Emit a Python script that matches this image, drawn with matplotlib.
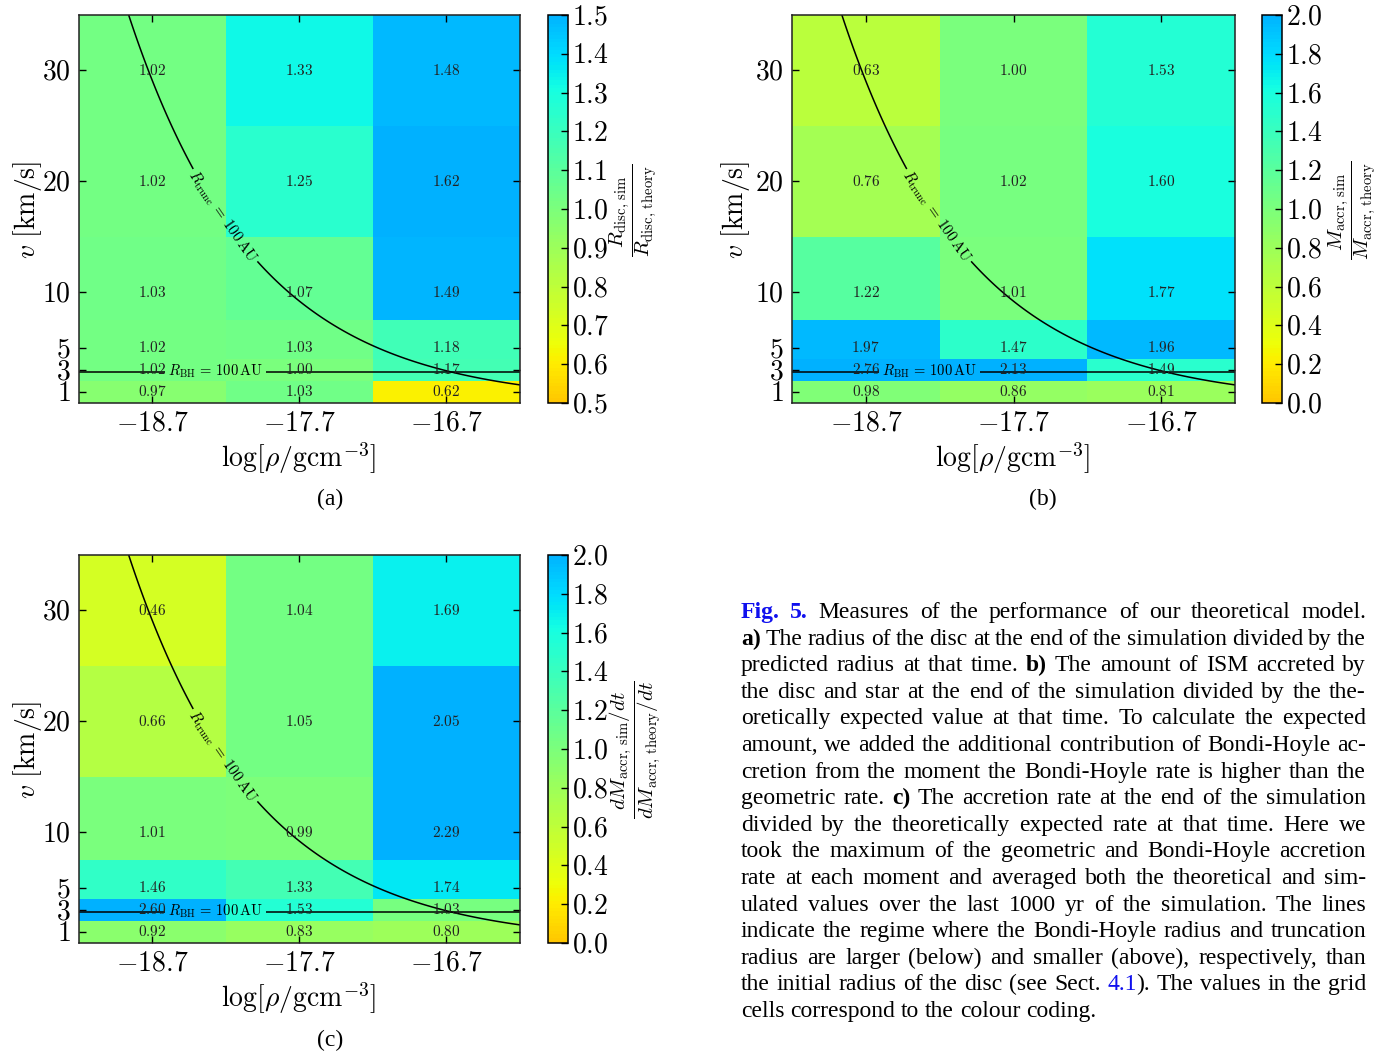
import numpy as np
import matplotlib
matplotlib.use('Agg')
import matplotlib.pyplot as plt
from matplotlib.colors import ListedColormap, Normalize

plt.rcParams['mathtext.fontset'] = 'cm'
plt.rcParams['font.family'] = ['Liberation Serif', 'DejaVu Serif']

# ---------------- data ----------------
log_rho = [-18.7, -17.7, -16.7]
velocities = [30, 20, 10, 5, 3, 1]          # rows, top to bottom

ratio_rdisc = [[1.02, 1.33, 1.48],
               [1.02, 1.25, 1.62],
               [1.03, 1.07, 1.49],
               [1.02, 1.03, 1.18],
               [1.02, 1.00, 1.17],
               [0.97, 1.03, 0.62]]

ratio_macc = [[0.63, 1.00, 1.53],
              [0.76, 1.02, 1.60],
              [1.22, 1.01, 1.77],
              [1.97, 1.47, 1.96],
              [2.76, 2.13, 1.49],
              [0.98, 0.86, 0.81]]

ratio_mdot = [[0.46, 1.04, 1.69],
              [0.66, 1.05, 2.05],
              [1.01, 0.99, 2.29],
              [1.46, 1.33, 1.74],
              [2.60, 1.53, 1.03],
              [0.92, 0.83, 0.80]]

x_ticklabels = [r'$-18.7$', r'$-17.7$', r'$-16.7$']
y_ticks = [1, 3, 5, 10, 20, 30]
cbar_ticks_a = [0.5, 0.6, 0.7, 0.8, 0.9, 1.0, 1.1, 1.2, 1.3, 1.4, 1.5]
cbar_ticks_bc = [0.0, 0.2, 0.4, 0.6, 0.8, 1.0, 1.2, 1.4, 1.6, 1.8, 2.0]

# regime lines: R_trunc = 100 AU  <->  log10(rho v^2) = const ; R_BH = 100 AU <-> v = const
log_ram_pressure_trunc = -15.774
v_bondi_hoyle = 2.84

caption_lines = [
    "^BFig. ^B5. Measures of the performance of our theoretical model.",
    "^ba) The radius of the disc at the end of the simulation divided by the",
    "predicted radius at that time. ^bb) The amount of ISM accreted by",
    "the disc and star at the end of the simulation divided by the the-",
    "oretically expected value at that time. To calculate the expected",
    "amount, we added the additional contribution of Bondi-Hoyle ac-",
    "cretion from the moment the Bondi-Hoyle rate is higher than the",
    "geometric rate. ^bc) The accretion rate at the end of the simulation",
    "divided by the theoretically expected rate at that time. Here we",
    "took the maximum of the geometric and Bondi-Hoyle accretion",
    "rate at each moment and averaged both the theoretical and sim-",
    "ulated values over the last 1000 yr of the simulation. The lines",
    "indicate the regime where the Bondi-Hoyle radius and truncation",
    "radius are larger (below) and smaller (above), respectively, than",
    "the initial radius of the disc (see Sect. ^L4.1|). The values in the grid",
    "cells correspond to the colour coding.",
]

# ---------------- figure ----------------
W, H = 1395, 1056
fig = plt.figure(figsize=(W / 100, H / 100), dpi=100)

def px_axes(l, t, r, b):
    return fig.add_axes([l / W, 1 - b / H, (r - l) / W, (b - t) / H])

cmap = ListedColormap(plt.get_cmap('jet')(np.linspace(0.7, 0.3, 256)))

xc = np.array(log_rho)
x_edges = np.concatenate([[xc[0] - 0.5], (xc[:-1] + xc[1:]) / 2, [xc[-1] + 0.5]])
vc = np.array(velocities[::-1], dtype=float)
v_edges = np.concatenate([[vc[0] - (vc[1] - vc[0]) / 2], (vc[:-1] + vc[1:]) / 2,
                          [vc[-1] + (vc[-1] - vc[-2]) / 2]])

def panel(ax_box, cax_box, values, vmin, vmax, cticks, cbar_label,
          xlabel_pos, ylabel_pos, cbar_label_pos, sub_pos, sub_text):
    ax = px_axes(*ax_box)
    cax = px_axes(*cax_box)
    Z = np.array(values)[::-1]
    mesh = ax.pcolormesh(x_edges, v_edges, Z, cmap=cmap,
                         norm=Normalize(vmin=vmin, vmax=vmax), shading='flat')
    ax.set_xlim(x_edges[0], x_edges[-1])
    ax.set_ylim(v_edges[0], v_edges[-1])
    for i, v in enumerate(velocities):
        for j, x in enumerate(log_rho):
            ax.text(x, v, f'${values[i][j]:.2f}$', ha='center', va='center',
                    fontsize=11, color='#222222')
    # regime contours
    gx = np.linspace(x_edges[0], x_edges[-1], 400)
    gv = np.linspace(0.05, v_edges[-1], 700)
    GX, GV = np.meshgrid(gx, gv)
    cs1 = ax.contour(GX, GV, GX + 2 * np.log10(GV), levels=[log_ram_pressure_trunc],
                     colors='k', linewidths=1.1, linestyles='solid')
    ax.clabel(cs1, fmt={log_ram_pressure_trunc: r'$R_{\rm trunc}\,=\,100\,{\rm AU}$'},
              fontsize=11, inline=True, inline_spacing=2,
              manual=[(-18.22, 16.8)])
    cs2 = ax.contour(GX, GV, GV, levels=[v_bondi_hoyle], colors='k', linewidths=1.1,
                     linestyles='solid')
    ax.clabel(cs2, fmt={v_bondi_hoyle: r'$R_{\rm BH}\,=\,100\,{\rm AU}$'},
              fontsize=10.5, inline=True, inline_spacing=3,
              manual=[(-18.27, v_bondi_hoyle)])
    ax.set_xticks(log_rho)
    ax.set_xticklabels(x_ticklabels)
    ax.set_yticks(y_ticks)
    ax.set_yticklabels([f'${t}$' for t in y_ticks])
    ax.tick_params(direction='in', top=True, right=True, length=5, width=1,
                   labelsize=20, pad=6)
    for s in ax.spines.values():
        s.set_linewidth(1.1)
        s.set_color('#222222')
    cb = fig.colorbar(mesh, cax=cax, ticks=cticks)
    cax.set_yticklabels([f'${t:.1f}$' for t in cticks])
    cax.tick_params(direction='in', length=5, width=1, labelsize=20, pad=3)
    cb.outline.set_linewidth(1.1)
    fig.text(xlabel_pos[0] / W, 1 - xlabel_pos[1] / H, r'$\log[\rho/{\rm gcm}^{-3}]$',
             ha='center', va='center', fontsize=20)
    fig.text(ylabel_pos[0] / W, 1 - ylabel_pos[1] / H, r'$v\ [{\rm km/s}]$',
             ha='center', va='center', fontsize=20, rotation=90)
    fig.text(cbar_label_pos[0] / W, 1 - cbar_label_pos[1] / H, cbar_label,
             ha='center', va='center', fontsize=15, rotation=90)
    fig.text(sub_pos[0] / W, 1 - sub_pos[1] / H, sub_text, ha='center', va='center',
             fontsize=17)
    return ax

panel((79, 15, 520, 403), (548, 15, 568, 403), ratio_rdisc, 0.5, 1.5, cbar_ticks_a,
      r'$\dfrac{R_{\rm disc,\,sim}}{R_{\rm disc,\,theory}}$',
      (298, 458), (28, 210), (633, 210), (330, 499), '(a)')
panel((792, 15, 1235, 403), (1262, 15, 1282, 403), ratio_macc, 0.0, 2.0, cbar_ticks_bc,
      r'$\dfrac{M_{\rm accr,\,sim}}{M_{\rm accr,\,theory}}$',
      (1012, 458), (736, 210), (1352, 210), (1043, 499), '(b)')
panel((79, 555, 520, 943), (548, 555, 568, 943), ratio_mdot, 0.0, 2.0, cbar_ticks_bc,
      r'$\dfrac{dM_{\rm accr,\,sim}/dt}{dM_{\rm accr,\,theory}/dt}$',
      (298, 998), (28, 750), (635, 750), (330, 1040), '(c)')

# ---------------- caption (justified) ----------------
CAP_FS = 17
renderer = fig.canvas.get_renderer()

def seg_style(s):
    if s.startswith('^B'):
        return s[2:], dict(fontweight='bold', color='#1010ee')
    if s.startswith('^b'):
        return s[2:], dict(fontweight='bold', color='black')
    if s.startswith('^L'):
        return s[2:], dict(color='#1010ee')
    return s, dict(color='black')

def measure(txt, **kw):
    t = fig.text(0, 0, txt, fontsize=CAP_FS, **kw)
    w = t.get_window_extent(renderer).width
    t.remove()
    return w

space_w = measure('a a') - measure('aa')
cap_left, cap_right = 741, 1366
first_baseline, line_step = 618, 26.6
for i, line in enumerate(caption_lines):
    words = line.split(' ')
    items, widths = [], []
    for w in words:
        segs, ww = [], 0
        for s in w.split('|'):
            txt, st = seg_style(s)
            t = fig.text(0, 0, txt, fontsize=CAP_FS, va='baseline', ha='left', **st)
            wd = t.get_window_extent(renderer).width
            segs.append((t, wd))
            ww += wd
        items.append(segs)
        widths.append(ww)
    last = (i == len(caption_lines) - 1)
    gap = space_w if last else (cap_right - cap_left - sum(widths)) / (len(words) - 1)
    x = cap_left
    y = 1 - (first_baseline + i * line_step) / H
    for segs, ww in zip(items, widths):
        xx = x
        for t, wd in segs:
            t.set_position((xx / W, y))
            xx += wd
        x += ww + gap

fig.savefig('out.png', dpi=100)
